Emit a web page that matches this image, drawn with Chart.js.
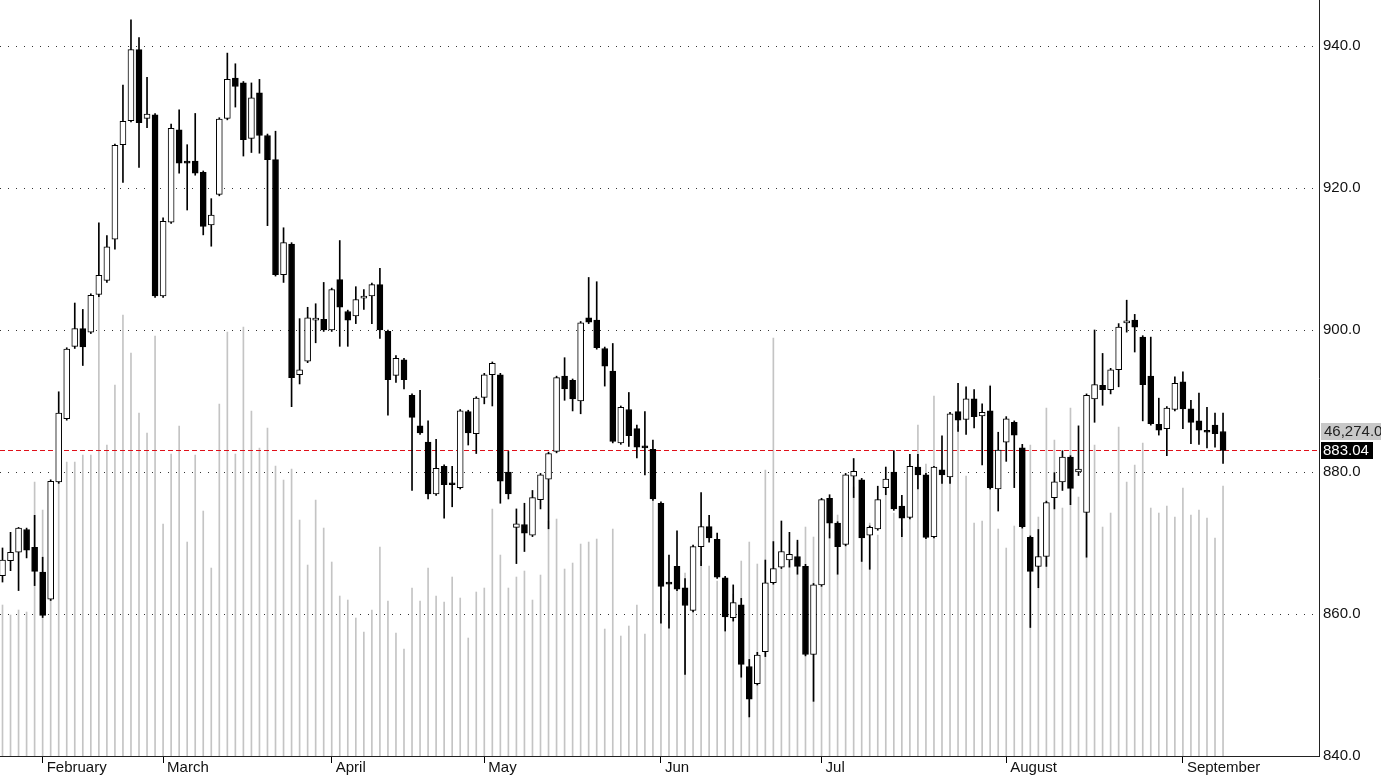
<!DOCTYPE html>
<html><head><meta charset="utf-8">
<script src="https://cdn.jsdelivr.net/npm/chart.js@4.4.1/dist/chart.umd.min.js"></script>
<style>html,body{margin:0;padding:0;background:#fff;overflow:hidden}canvas{display:block}</style>
</head><body>
<canvas id="c" width="1381" height="776"></canvas>
<script>
const openP = [865.4,867.5,868.7,871.9,869.4,865.9,862.1,878.6,887.5,897.7,
900.2,899.7,905.0,907.0,912.8,926.1,929.5,939.5,929.8,930.3,
904.8,915.2,928.2,923.7,923.8,922.2,914.8,919.1,929.8,935.5,
934.8,927.0,933.4,927.4,924.0,907.8,912.1,893.7,895.6,901.4,
901.5,900.0,907.1,902.6,902.0,904.5,904.8,906.4,899.8,893.6,
895.8,890.8,886.5,884.2,876.9,880.8,878.4,877.8,888.5,885.4,
890.5,893.7,893.7,880.0,872.2,872.6,871.1,876.1,879.0,882.9,
893.5,892.9,890.0,901.7,901.4,897.4,894.2,884.1,888.8,886.1,
883.6,883.2,875.6,864.4,866.7,863.7,860.5,869.5,872.3,870.5,
865.1,859.5,861.3,852.6,850.2,854.7,864.4,866.6,867.6,868.1,
866.7,854.3,864.1,876.3,872.8,869.8,879.4,878.9,871.1,872.0,
877.8,880.0,875.2,873.6,880.7,879.6,870.9,880.3,879.3,888.5,
887.4,890.3,887.9,888.6,877.6,884.2,887.0,883.4,870.8,866.7,
868.1,876.4,878.6,882.1,880.0,874.3,890.3,892.2,891.6,894.4,
901.0,901.4,899.0,893.5,886.7,886.1,888.8,892.7,888.9,887.2,
885.8,886.6,885.7];
const highP = [869.3,871.5,872.2,872.1,873.9,868.0,878.9,891.3,897.5,903.8,
902.9,905.1,915.1,913.3,926.2,934.5,943.7,941.2,935.6,930.5,
915.8,929.0,931.0,926.1,930.5,922.4,918.5,929.9,939.0,937.5,
935.0,934.8,935.3,927.6,928.0,914.4,912.3,901.6,903.2,903.7,
906.7,905.9,912.6,902.8,906.1,905.7,906.6,908.7,900.0,896.4,
896.0,891.0,891.5,887.2,884.6,881.0,880.8,888.8,888.7,890.6,
893.9,895.5,893.9,882.9,874.8,875.6,877.4,879.8,882.8,893.5,
896.1,893.1,901.2,907.4,906.8,897.6,898.1,889.3,891.2,886.6,
888.5,884.5,875.8,868.3,871.7,865.0,869.7,877.1,873.9,871.4,
865.3,864.1,862.2,853.6,854.6,867.6,870.2,873.1,871.5,870.4,
867.0,864.3,876.3,876.8,873.0,879.8,881.9,879.1,872.4,878.0,
880.7,883.0,876.7,882.5,882.5,879.8,880.8,885.1,888.4,892.5,
892.0,891.6,889.6,892.1,885.6,887.8,887.2,883.9,871.0,871.9,
875.9,879.9,883.0,882.3,886.5,891.0,900.0,896.7,894.6,900.9,
904.2,902.2,899.2,899.0,890.4,889.2,893.4,894.1,890.1,891.1,
889.1,888.3,888.3];
const lowP = [864.5,866.1,863.3,867.9,864.0,859.5,861.9,878.4,887.3,897.4,
895.0,899.5,904.7,906.7,911.4,920.8,929.3,922.9,928.5,904.6,
904.6,915.0,922.1,916.9,921.8,913.4,911.8,918.9,929.6,931.4,
924.5,925.0,924.9,914.7,907.6,906.7,889.2,892.4,895.4,898.2,
899.8,899.8,897.7,897.7,900.9,902.9,900.9,898.8,888.0,892.6,
891.7,877.4,885.3,876.2,876.7,873.5,875.1,877.6,883.8,882.6,
889.6,889.3,875.6,876.2,867.1,868.8,870.9,874.8,872.0,882.7,
890.1,888.6,888.2,900.9,897.3,892.1,884.1,883.9,883.6,882.0,
879.6,876.0,858.7,858.0,863.3,851.5,860.3,866.8,870.1,865.0,
857.6,859.0,851.1,845.5,850.0,854.0,864.2,866.4,866.6,865.6,
854.1,847.7,863.9,870.7,865.6,869.6,876.4,867.4,866.3,871.8,
876.8,874.6,870.9,873.4,877.6,870.6,870.7,878.4,878.4,885.7,
885.3,886.2,881.0,877.6,874.5,881.5,877.8,872.1,858.1,863.7,
866.7,874.8,877.4,875.4,879.5,868.0,887.0,889.4,891.0,892.0,
899.7,896.9,887.2,886.6,885.2,882.3,888.6,886.1,884.0,883.9,
883.4,883.5,881.2];
const closeP = [867.6,868.7,872.1,869.0,866.0,859.8,878.7,888.3,897.3,900.2,
897.6,904.9,907.7,911.7,926.0,929.4,939.5,929.2,930.4,904.8,
915.3,928.4,923.5,923.5,922.1,914.6,916.2,929.7,935.3,934.3,
926.8,932.7,927.4,924.0,907.8,912.3,893.3,894.4,901.7,901.6,
900.0,905.7,903.2,901.4,904.3,904.7,906.4,900.0,893.0,896.0,
893.0,887.7,885.5,876.9,880.5,878.2,878.2,888.6,885.5,890.4,
893.7,895.3,878.7,876.9,872.7,871.4,876.4,879.6,882.6,893.3,
891.7,890.3,901.0,901.1,897.5,894.9,884.3,889.1,885.1,883.5,
883.4,876.2,863.9,864.2,863.5,861.2,869.5,872.3,870.7,865.2,
859.6,861.6,852.9,848.0,854.2,864.4,866.4,868.8,868.4,866.7,
854.3,864.1,876.1,872.8,869.5,879.6,880.1,870.7,872.2,876.1,
879.0,874.8,873.5,880.8,879.6,870.8,880.7,879.6,888.2,887.3,
890.3,887.8,888.4,877.8,883.1,887.5,885.2,872.3,866.0,868.1,
875.7,878.6,882.1,877.7,880.4,890.8,892.3,891.6,894.4,900.4,
901.2,900.4,892.3,886.8,885.9,889.0,892.5,888.9,887.0,885.9,
885.6,885.4,883.04];
const volume = [25881,24167,25024,24682,46964,42164,45592,49020,50392,50392,
51591,51591,79187,53305,63589,75587,69074,58790,55362,71988,
39765,51763,56562,36680,51591,41993,32223,60333,72674,51763,
73531,59133,52791,56219,49706,47306,49192,40450,32737,43878,
39079,33252,27424,26738,23653,21254,25024,35823,26567,21082,
18340,28795,26567,32223,27424,26396,30681,27081,20225,28110,
28795,42336,34451,28795,30681,31709,26738,31023,40279,40622,
32052,33080,36337,36680,37194,21768,38908,20568,22282,25881,
20911,46621,37022,26567,31366,31366,30681,33423,32566,29995,
30681,27767,33423,36680,32909,49020,71645,32052,33252,36680,
39251,37537,43878,38222,41307,39593,46107,41307,39936,37879,
45935,41650,38908,44907,56733,50049,61704,50734,52277,56562,
47992,39936,40279,63589,38908,35651,39422,46621,53305,40965,
59647,54162,42507,59647,44393,41479,53305,39251,41650,56391,
46964,49877,53648,42507,41650,42850,40965,45935,41307,42164,
40793,37365,46274];
const monthTickIndex = [5, 20, 41, 60, 82, 102, 125, 147];
const monthLabels = ['February', 'March', 'April', 'May', 'Jun', 'Jul', 'August', 'September'];
const priceTicks = [840, 860, 880, 900, 920, 940];

const FONT = "'Liberation Sans', Arial, sans-serif";
const sessions = openP.map((_, i) => i);
const last = sessions.length - 1;

const bodyData = sessions.map(i => ({x: i, y: [openP[i], closeP[i]]}));
const wickData = sessions.map(i => ({x: i, y: [lowP[i], highP[i]]}));
const volData = sessions.map(i => ({x: i, y: volume[i]}));
const bodyColors = sessions.map(i => closeP[i] >= openP[i] ? '#ffffff' : '#000000');

const overlay = {
  id: 'overlay',
  afterDatasetDraw(chart, args) {
    if (args.index !== 2) return;
    const {ctx, chartArea} = chart;
    const y = Math.round(chart.scales.y.getPixelForValue(closeP[last])) + 0.5;
    ctx.save();
    ctx.strokeStyle = '#e0101a';
    ctx.lineWidth = 1;
    ctx.setLineDash([5, 3]);
    ctx.beginPath();
    ctx.moveTo(chartArea.left, y);
    ctx.lineTo(chartArea.right, y);
    ctx.stroke();
    ctx.restore();
  },
  afterDraw(chart) {
    const {ctx, chartArea} = chart;
    const yP = chart.scales.y.getPixelForValue(closeP[last]);
    let yV = chart.scales.yv.getPixelForValue(volume[last]);
    if (Math.abs(yV - yP) < 40) yV = yP - 19;
    const x0 = chartArea.right + 2;
    ctx.save();
    ctx.font = '15px ' + FONT;
    ctx.textBaseline = 'middle';
    ctx.fillStyle = '#c8c8c8';
    ctx.fillRect(x0, Math.round(yV) - 8, 70, 17);
    ctx.fillStyle = '#222';
    ctx.fillText(volume[last].toLocaleString('en-US', {minimumFractionDigits: 1, maximumFractionDigits: 1}), x0 + 3, Math.round(yV) + 1);
    ctx.fillStyle = '#000';
    ctx.fillRect(x0, Math.round(yP) - 8, 52, 17);
    ctx.fillStyle = '#fff';
    ctx.fillText(closeP[last].toFixed(2), x0 + 2, Math.round(yP) + 1);
    ctx.restore();
  }
};

new Chart(document.getElementById('c'), {
  type: 'bar',
  data: {
    datasets: [
      {label: 'body', data: bodyData, backgroundColor: bodyColors, borderColor: '#000', borderWidth: 1,
       borderSkipped: false, barThickness: 6, minBarLength: 2, order: 0, yAxisID: 'y'},
      {label: 'wick', data: wickData, backgroundColor: '#000', borderWidth: 0, barThickness: 1, order: 1, yAxisID: 'y'},
      {label: 'volume', data: volData, backgroundColor: '#c4c4c4', borderWidth: 0, barThickness: 1, order: 2, yAxisID: 'yv'}
    ]
  },
  options: {
    responsive: false,
    animation: false,
    devicePixelRatio: 1,
    layout: {padding: 0},
    datasets: {bar: {grouped: false}},
    plugins: {legend: {display: false}, tooltip: {enabled: false}},
    scales: {
      x: {
        type: 'linear', position: 'bottom', min: -0.311, max: 163.95, offset: false,
        afterBuildTicks: s => { s.ticks = monthTickIndex.map(v => ({value: v})); },
        afterFit: s => { s.height = 20; s.paddingLeft = 0; s.paddingRight = 0; },
        ticks: {
          autoSkip: false, maxRotation: 0, minRotation: 0, align: 'start', labelOffset: 4, padding: -4,
          color: '#111', font: {family: FONT, size: 15},
          callback: v => monthLabels[monthTickIndex.indexOf(v)]
        },
        grid: {offset: false, drawOnChartArea: false, drawTicks: true, tickLength: 7, color: '#000', lineWidth: 1},
        border: {display: true, color: '#222', width: 1}
      },
      y: {
        type: 'linear', position: 'right', min: 840, max: 946.48,
        afterBuildTicks: s => { s.ticks = priceTicks.map(v => ({value: v})); },
        afterFit: s => { s.width = 62; s.paddingTop = 0; s.paddingBottom = 0; },
        ticks: {padding: 4, color: '#111', font: {family: FONT, size: 15}, callback: v => Number(v).toFixed(1)},
        grid: {drawTicks: false, color: '#333', lineWidth: 1},
        border: {display: true, color: '#222', width: 1, dash: [1, 7]}
      },
      yv: {type: 'linear', display: false, min: 0, max: 129600}
    }
  },
  plugins: [overlay]
});
</script>
</body></html>
